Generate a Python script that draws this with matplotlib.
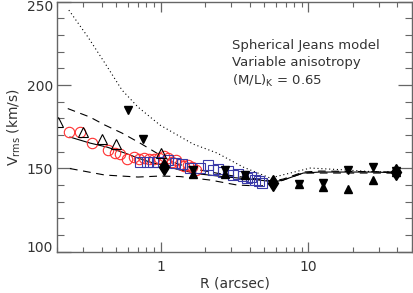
import matplotlib
matplotlib.use('Agg')
import matplotlib.pyplot as plt
import matplotlib.transforms as mtransforms
import numpy as np
from matplotlib.ticker import LogLocator, MultipleLocator, NullFormatter, FixedLocator

# model curves (R in arcsec, Vrms in km/s)
r_solid = [0.243, 0.332, 0.432, 0.573, 0.702, 0.846, 1.02, 1.352, 1.846, 2.814,
           4.03, 5.26, 5.77, 6.75, 9.22, 12.0, 18.3, 28.4, 41.9]
v_solid = [168.8, 165.2, 162.8, 159.2, 156.2, 153.8, 152.0, 149.0, 146.6, 144.8,
           143.6, 142.4, 141.8, 143.0, 147.2, 147.8, 147.8, 147.8, 147.2]

r_dash_hi = [0.235, 0.332, 0.419, 0.547, 0.724, 0.915, 1.07, 1.31, 1.846, 2.81,
             4.03, 5.77, 6.75, 9.22, 12.0, 41.9]
v_dash_hi = [185.9, 180.8, 176.0, 171.2, 165.2, 159.8, 156.2, 152.6, 149.0, 146.0,
             144.2, 142.4, 143.6, 147.8, 148.4, 147.8]

r_dash_lo = [0.243, 0.419, 0.702, 0.99, 1.35, 2.16, 3.29, 4.71, 5.77, 6.75, 9.22, 41.9]
v_dash_lo = [149.9, 146.0, 144.8, 145.4, 145.1, 143.0, 140.0, 139.4, 140.6, 143.0, 147.2, 147.2]

r_dot = [0.239, 0.322, 0.419, 0.547, 0.702, 0.989, 1.656, 2.41, 3.61, 5.51,
         7.53, 10.3, 18.3, 26.2, 40.0]
v_dot = [245.0, 228.8, 213.2, 197.0, 186.8, 176.0, 164.6, 159.2, 150.8, 144.2,
         147.2, 150.2, 149.0, 148.1, 148.1]

# data points
r_circ = [0.239, 0.284, 0.342, 0.439, 0.490, 0.530, 0.591, 0.659, 0.713, 0.770, 0.833,
          0.901, 0.974, 1.053, 1.120, 1.193, 1.270, 1.352, 1.439, 1.532, 1.630, 1.735]
v_circ = [171.8, 171.8, 165.2, 161.0, 159.2, 158.6, 155.6, 156.8, 155.6, 156.2, 155.6,
          155.6, 156.2, 157.4, 156.2, 153.8, 155.0, 152.6, 151.4, 152.0, 150.8, 149.0]

r_sq = [0.724, 0.807, 0.887, 0.959, 1.121, 1.250, 1.394, 1.580, 1.845, 2.093, 2.262,
        2.446, 2.644, 2.859, 3.092, 3.343, 3.614, 3.847, 4.095, 4.359, 4.641, 4.860]
v_sq = [153.8, 153.8, 153.8, 153.8, 155.0, 153.2, 152.6, 150.2, 150.2, 152.0, 149.0,
        149.6, 147.8, 148.4, 146.0, 146.6, 145.4, 144.2, 144.8, 143.0, 142.4, 141.2]

r_otri = [0.201, 0.297, 0.400, 0.501, 1.005]
v_otri = [177.8, 171.8, 167.9, 164.9, 159.2]

r_down = [0.601, 0.759, 1.656, 2.729, 3.731, 8.66, 12.6, 18.6, 27.5, 39.4]
v_down = [185.0, 167.9, 149.3, 149.3, 146.0, 140.6, 141.2, 149.0, 150.8, 148.4]

r_up = [1.656, 2.729, 3.731, 8.66, 12.6, 18.6, 27.5, 39.4]
v_up = [146.6, 146.6, 146.0, 140.6, 138.8, 137.6, 143.0, 148.0]

r_diam = [1.053, 5.77, 39.4]
v_diam = [150.8, 141.0, 148.0]

fig = plt.figure(figsize=(4.13, 2.93), dpi=100)
ax = fig.add_axes([0.139, 0.141, 0.858, 0.853])

ax.plot(r_dot, v_dot, color='k', linestyle=(0, (1, 2.5)), lw=0.8)
ax.plot(r_dash_hi, v_dash_hi, color='k', linestyle=(0, (7, 5)), lw=0.8)
ax.plot(r_dash_lo, v_dash_lo, color='k', linestyle=(0, (7, 5)), lw=0.8)
ax.plot(r_solid, v_solid, color='k', lw=0.8)

ax.plot(r_circ, v_circ, 'o', ms=7.5, mfc='none', mec='#ff3030', mew=0.8)
ax.plot(r_sq, v_sq, 's', ms=6.5, mfc='none', mec='#3a3aa8', mew=0.8)
ax.plot(r_otri, v_otri, '^', ms=7.5, mfc='none', mec='k', mew=0.8)
ax.plot(r_down, v_down, 'v', ms=6, color='k')
ax.plot(r_up, v_up, '^', ms=6, color='k')
ax.plot(r_diam, v_diam, 'd', ms=8.5, color='k')

ax.set_xscale('log')
ax.set_xlim(0.2, 50)
ax.set_ylim(100, 250)

ax.xaxis.set_major_locator(FixedLocator([1, 10]))
ax.set_xticklabels(['1', '10'])
ax.xaxis.set_minor_locator(LogLocator(base=10, subs=np.arange(2, 10), numticks=20))
ax.xaxis.set_minor_formatter(NullFormatter())
ax.yaxis.set_major_locator(MultipleLocator(50))
ax.yaxis.set_minor_locator(MultipleLocator(10))

for s in ax.spines.values():
    s.set_color('#666666')
    s.set_linewidth(1.0)
ax.tick_params(which='both', direction='in', top=True, right=True, color='#666666',
               labelcolor='#333333', labelsize=10)
ax.tick_params(axis='x', which='major', length=7, width=0.9, pad=6)
ax.tick_params(axis='x', which='minor', length=3.5, width=0.8)
ax.tick_params(axis='y', which='major', length=10, width=0.9, pad=3)
ax.tick_params(axis='y', which='minor', length=5, width=0.8)

# keep end labels inside the frame like the original
fig.canvas.draw()
for lab in ax.get_yticklabels():
    if lab.get_text() == '250':
        lab.set_transform(lab.get_transform() + mtransforms.ScaledTranslation(0, -4 / 100, fig.dpi_scale_trans))
    if lab.get_text() == '100':
        lab.set_transform(lab.get_transform() + mtransforms.ScaledTranslation(0, 5 / 100, fig.dpi_scale_trans))

ax.set_xlabel('R (arcsec)', fontsize=10, color='#333333', labelpad=2)
ax.set_ylabel(r'V$_\mathrm{rms}$ (km/s)', fontsize=10, color='#333333', labelpad=3)

txt = 'Spherical Jeans model\nVariable anisotropy\n' + r'(M/L)$_\mathrm{K}$ = 0.65'
ax.text(0.493, 0.751, txt, transform=ax.transAxes, fontsize=9.5,
        color='#333333', va='center', ha='left', linespacing=1.4)

fig.savefig('out.png', dpi=100)
